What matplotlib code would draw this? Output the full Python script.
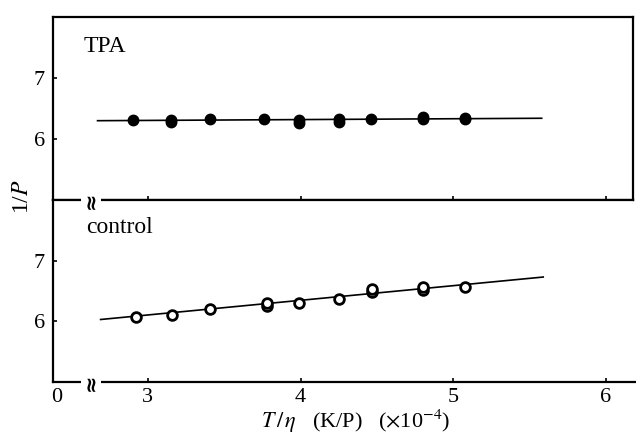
import numpy as np
import matplotlib.pyplot as plt

plt.rcParams['font.family'] = ['Liberation Serif', 'DejaVu Serif']
plt.rcParams['mathtext.fontset'] = 'stix'

# TPA (filled circles)
x_tpa = [2.90, 3.15, 3.15, 3.41, 3.76, 3.99, 3.99, 4.25, 4.25, 4.46, 4.80, 4.80, 5.08, 5.08]
y_tpa = [6.31, 6.28, 6.31, 6.33, 6.33, 6.27, 6.31, 6.28, 6.32, 6.32, 6.33, 6.36, 6.33, 6.35]
line_tpa_x = [2.67, 5.58]
line_tpa_y = [6.30, 6.34]

# control (open circles)
x_ctl = [2.92, 3.16, 3.41, 3.78, 3.78, 3.99, 4.25, 4.47, 4.47, 4.80, 4.80, 5.08]
y_ctl = [6.07, 6.11, 6.21, 6.26, 6.31, 6.31, 6.37, 6.49, 6.54, 6.52, 6.56, 6.56]
line_ctl_x = [2.69, 5.59]
line_ctl_y = [6.03, 6.73]

xticks = [3, 4, 5, 6]
xtick_labels = ['3', '4', '5', '6']
x_origin = 2.40   # where the "0" of the broken axis sits
x_break = 2.63
yticks = [6, 7]
ytick_labels = ['6', '7']

fig = plt.figure(figsize=(6.36, 4.36), dpi=100)
ax_top = fig.add_axes([0.0833, 0.5413, 0.9117, 0.4197])
ax_bot = fig.add_axes([0.0833, 0.1239, 0.9117, 0.4174])

for ax in (ax_top, ax_bot):
    ax.set_xlim(2.378, 6.177)
    ax.set_ylim(5, 8)
    ax.set_yticks(yticks, labels=ytick_labels)
    ax.set_xticks(xticks)
    ax.tick_params(direction='in', length=3, width=1.2, labelsize=16, pad=6)
    for s in ax.spines.values():
        s.set_linewidth(1.6)

ax_top.tick_params(axis='x', labelbottom=False)
ax_bot.set_xticklabels(xtick_labels)
ax_bot.set_xticks([x_origin], labels=['0'], minor=True)
ax_bot.tick_params(axis='x', which='minor', length=0, labelsize=16, pad=4)
ax_bot.tick_params(axis='x', which='major', pad=4)
ax_bot.spines['right'].set_visible(False)
ax_bot.spines['bottom'].set_bounds(2.378, 6.2)

ax_top.plot(line_tpa_x, line_tpa_y, color='black', lw=1.2, zorder=2)
ax_top.plot(x_tpa, y_tpa, 'o', color='black', ms=7.5, zorder=3)

ax_bot.plot(line_ctl_x, line_ctl_y, color='black', lw=1.2, zorder=2)
ax_bot.plot(x_ctl, y_ctl, 'o', mfc='white', mec='black', mew=2, ms=7, zorder=3)

ax_top.text(0.052, 0.809, 'TPA', transform=ax_top.transAxes, fontsize=17, va='baseline')
ax_bot.text(0.057, 0.819, 'control', transform=ax_bot.transAxes, fontsize=17, va='baseline')

# axis-break marks on the shared line and on the bottom axis
for yb in (5.0, 8.0):
    ax_bot.text(x_break, yb, '≈', rotation=90, ha='center', va='center', fontsize=15,
                fontweight='bold', family='DejaVu Sans', clip_on=False, zorder=5,
                bbox=dict(boxstyle='square,pad=0.0', fc='white', ec='none'))

fig.text(0.035, 0.55, '1/$P$', rotation=90, ha='center', va='center', fontsize=17)
fig.text(0.56, 0.018, r'$T\,/\,\eta$   (K/P)   ($\times$10$^{-4}$)', ha='center', va='baseline',
         fontsize=16)

fig.savefig('out.png', dpi=100)
